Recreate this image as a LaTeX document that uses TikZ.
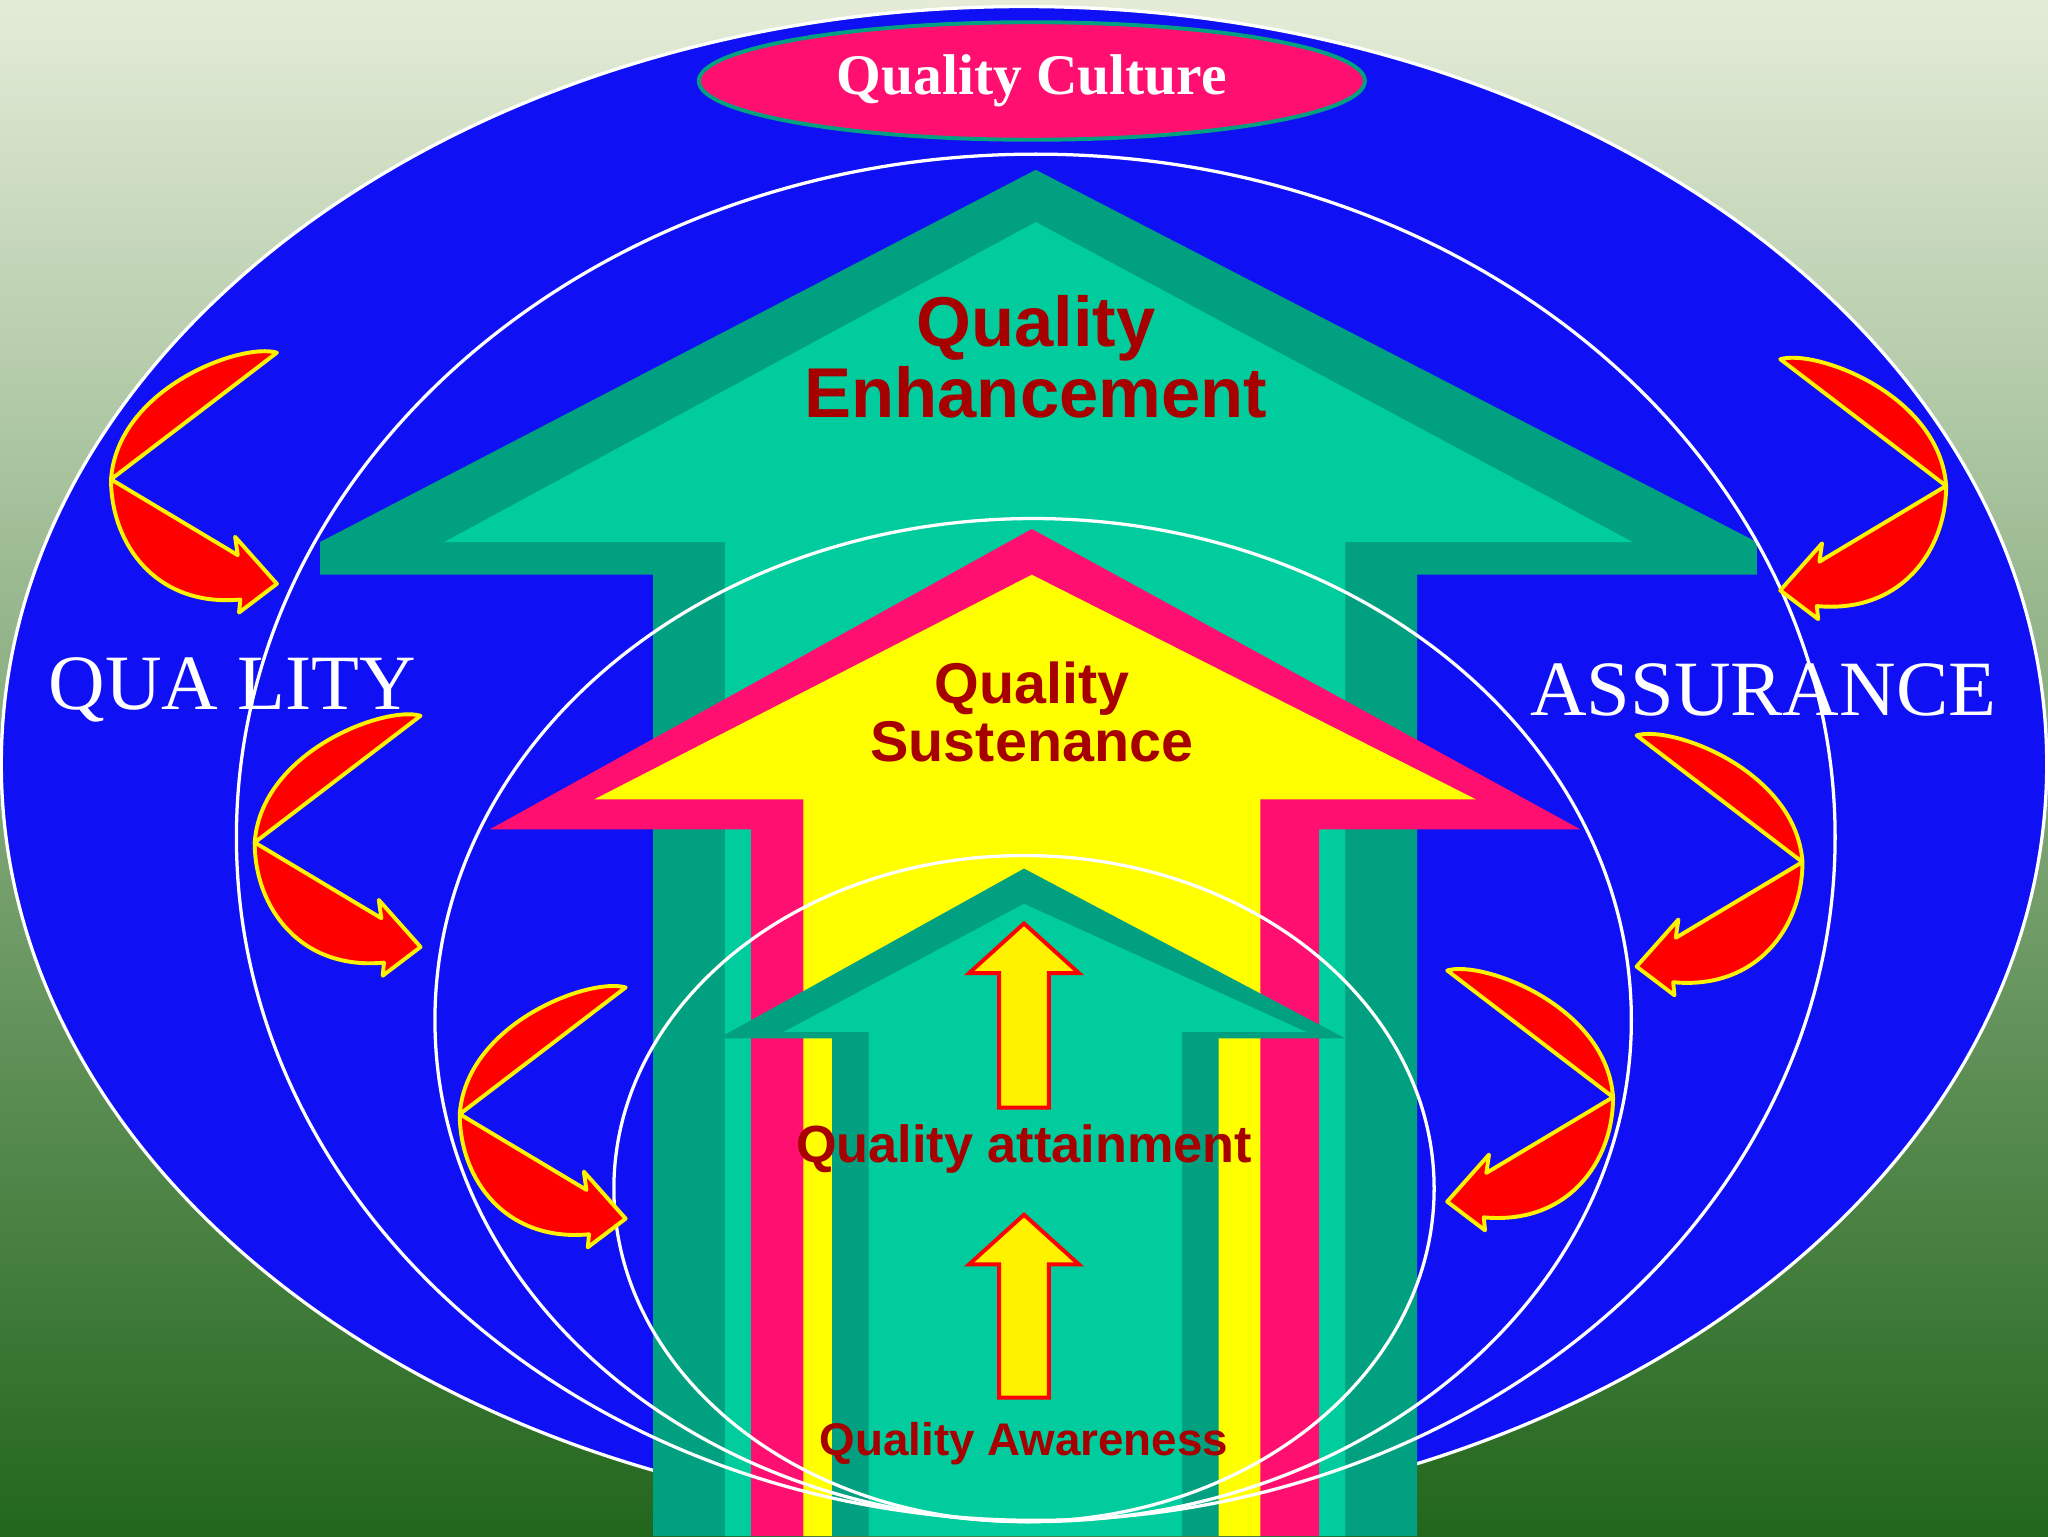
\documentclass[tikz,border=0pt]{standalone}
\usepackage{fontspec}
\setmainfont{Liberation Serif}
\setsansfont{Liberation Sans}
\begin{document}
\begin{tikzpicture}[x=1pt,y=-1pt,
  ring/.style={draw=white,line width=2.5pt},
  qlabel/.style={text=red!65!black,font=\sffamily\bfseries,align=center},
  wlabel/.style={text=white,font=\fontsize{60}{64}\selectfont},
  smallup/.style={fill=yellow,draw=red,line width=3pt,line join=miter},
  curvy/.style={fill=red,draw=yellow,line width=3pt,line join=round}]
\definecolor{bgtop}{HTML}{E4ECD8}\definecolor{bgmid}{HTML}{A8C890}\definecolor{bgbot}{HTML}{22661C}
\definecolor{qblue}{HTML}{1010F4}\definecolor{tdark}{HTML}{00A080}\definecolor{tlight}{HTML}{00CC9E}
\definecolor{qpink}{HTML}{FF1070}\definecolor{qyel}{HTML}{FFFF00}
\useasboundingbox (0,0) rectangle (1568,1176);
\shade[top color=bgtop,middle color=bgmid,bottom color=bgbot] (0,0) rectangle (1568,1176);
\draw[fill=qblue,draw=white,line width=2.5pt] (784,585) ellipse [x radius=783,y radius=580];
\fill[tdark] (500,1176) -- (500,440) -- (245,440) -- (245,415) -- (793,130) -- (1345,415) -- (1345,440) -- (1085,440) -- (1085,1176) -- cycle;
\fill[tlight] (555,1176) -- (555,415) -- (340,415) -- (793,170) -- (1250,415) -- (1030,415) -- (1030,1176) -- cycle;
\fill[qpink] (575,1176) -- (575,635) -- (375,635) -- (790,405) -- (1210,635) -- (1010,635) -- (1010,1176) -- cycle;
\fill[qyel] (615,1176) -- (615,612) -- (455,612) -- (790,440) -- (1130,612) -- (965,612) -- (965,1176) -- cycle;
\fill[tdark] (637,1176) -- (637,795) -- (550,795) -- (784,665) -- (1030,795) -- (933,795) -- (933,1176) -- cycle;
\fill[tlight] (665,1176) -- (665,790) -- (600,790) -- (784,692) -- (1000,790) -- (905,790) -- (905,1176) -- cycle;
\draw[ring] (793,641) ellipse [x radius=612,y radius=523];
\draw[ring] (791,781) ellipse [x radius=458,y radius=384];
\draw[ring] (784,910) ellipse [x radius=314,y radius=255];
\draw[smallup] (765,848) -- (765,745) -- (742,745) -- (784,707) -- (826,745) -- (803,745) -- (803,848) -- cycle;
\draw[smallup] (765,1070) -- (765,968) -- (742,968) -- (784,930) -- (826,968) -- (803,968) -- (803,1070) -- cycle;
\foreach \px/\py/\sx in {85/367/1, 195/645/1, 352/853/1, 1490/372/-1, 1380/660/-1, 1235/840/-1}{
 \draw[curvy,shift={(\px,\py)},xscale=\sx] (0,0) -- (127,-97) .. controls (100,-105) and (5,-70) .. (0,0) -- cycle;
 \draw[curvy,shift={(\px,\py)},xscale=\sx] (0,0) -- (97,58) -- (95,44) -- (127,80) -- (98,102) -- (99,92) .. controls (35,98) and (0,50) .. (0,0) -- cycle;
}
\draw[fill=qpink,draw=tdark,line width=3pt] (790,62) ellipse [x radius=255,y radius=45];
\node (qc) at (790,62) {\color{white}\bfseries\fontsize{44}{48}\selectfont Quality Culture};
\node[qlabel,font=\sffamily\bfseries\fontsize{54}{54}\selectfont] (qe) at (793,273) {Quality\\Enhancement};
\node[qlabel,font=\sffamily\bfseries\fontsize{44}{44}\selectfont] (qs) at (790,545) {Quality\\Sustenance};
\node[qlabel,font=\sffamily\bfseries\fontsize{40}{40}\selectfont] (qa) at (784,880) {Quality attainment};
\node[qlabel,font=\sffamily\bfseries\fontsize{35}{36}\selectfont] (qw) at (784,1105) {Quality Awareness};
\node[wlabel] (ql) at (178,528) {QUA LITY};
\node[wlabel] (as) at (1350,528) {ASSURANCE};
\end{tikzpicture}
\end{document}
